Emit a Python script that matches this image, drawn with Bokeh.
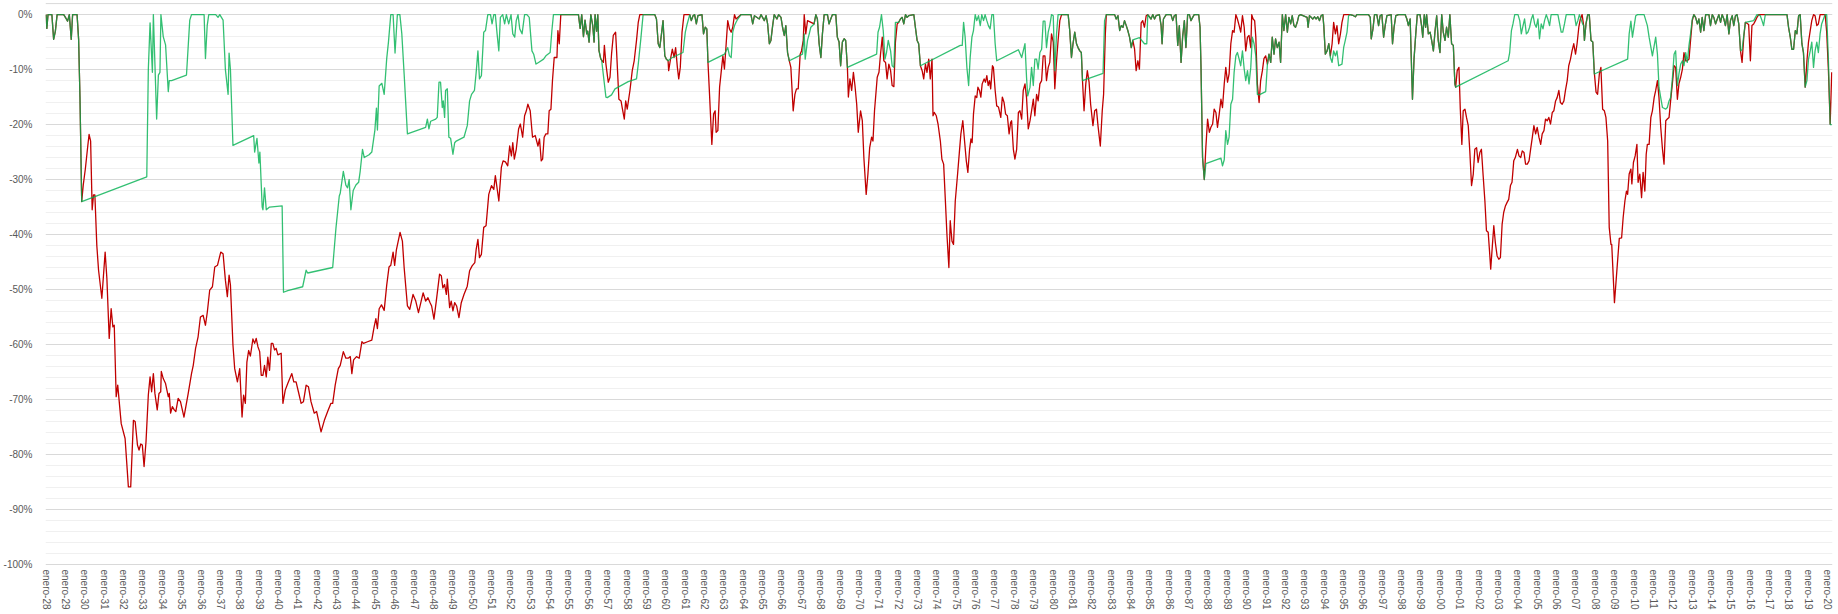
from bokeh.plotting import figure
from bokeh.models import Range1d, FixedTicker, PrintfTickFormatter, Span
from bokeh.embed import file_html
from bokeh.resources import INLINE

# ---- data: drawdown in %, x = decimal year ----
# stretches where both series coincide
both_year = [
    1928.00, 1928.04, 1928.10, 1928.30, 1928.39, 1928.48, 1928.57, 1928.91, 1929.03, 1929.11,
    1929.20, 1929.30, 1929.37, 1929.60, 1929.68, 1929.75, 1929.84,
    1954.58, 1954.72, 1955.49, 1955.58, 1955.66, 1955.75, 1955.83, 1955.92, 1955.97, 1956.04,
    1956.13, 1956.23, 1956.30, 1956.35, 1956.43, 1956.49, 1956.55, 1956.64, 1956.69,
    1958.83, 1959.43, 1959.52, 1959.61, 1959.69, 1959.78, 1959.86, 1959.95, 1960.03, 1960.12,
    1961.24, 1961.32, 1961.41, 1961.49, 1961.58, 1961.66, 1961.87, 1961.95, 1962.04, 1962.12, 1962.18,
    1963.89, 1964.40, 1964.49, 1964.58, 1964.83, 1964.92, 1965.09, 1965.18, 1965.26, 1965.35,
    1965.43, 1965.52, 1965.60, 1965.74, 1965.83, 1965.95, 1966.03, 1966.12, 1966.20, 1966.29, 1966.38,
    1967.66, 1967.75, 1967.83, 1967.92, 1968.01, 1968.09, 1968.18, 1968.35, 1968.43, 1968.52,
    1968.61, 1968.78, 1968.86, 1968.95, 1969.03, 1969.12, 1969.21, 1969.29, 1969.38,
    1972.03, 1972.12, 1972.21, 1972.29, 1972.38, 1972.46, 1972.55, 1972.81, 1972.89, 1972.98,
    1973.06, 1973.15,
    1980.44, 1980.78, 1980.86, 1980.95, 1981.03, 1981.12, 1981.21, 1981.29, 1981.38, 1981.46, 1981.52,
    1982.75, 1983.18, 1983.26, 1983.35, 1983.44, 1983.52, 1983.61, 1983.69, 1983.78, 1983.86,
    1983.95, 1984.04,
    1984.89, 1985.06, 1985.15, 1985.24, 1985.32, 1985.49, 1985.58, 1985.63, 1985.70, 1985.84,
    1986.09, 1986.18, 1986.26, 1986.35, 1986.44, 1986.52, 1986.61, 1986.69, 1986.78, 1986.86,
    1986.95, 1987.04, 1987.12, 1987.21, 1987.29, 1987.52, 1987.59, 1987.64, 1987.72, 1987.81,
    1991.07, 1991.15, 1991.24, 1991.32, 1991.41, 1991.49, 1991.58, 1991.67, 1991.75, 1991.84,
    1991.92, 1992.01, 1992.10, 1992.18, 1992.27, 1992.35, 1992.44, 1992.52, 1992.61, 1992.69,
    1992.78, 1993.12, 1993.17, 1993.24, 1993.33, 1993.41, 1993.50, 1993.58, 1993.67, 1993.76,
    1993.84, 1993.93, 1993.98, 1994.06,
    1995.35, 1995.52, 1995.61, 1995.69, 1996.29, 1996.38, 1996.43, 1996.52, 1996.60, 1996.72,
    1996.81, 1996.89, 1996.98, 1997.07, 1997.15, 1997.24, 1997.46, 1997.53, 1997.61, 1997.70,
    1997.84, 1998.18, 1998.27, 1998.35, 1998.44, 1998.56, 1998.64, 1998.73, 1998.81, 1998.95,
    1999.04, 1999.09, 1999.17, 1999.24, 1999.29, 1999.38, 1999.47, 1999.55, 1999.64, 1999.72,
    1999.81, 1999.89, 1999.98, 2000.07, 2000.15, 2000.24, 2000.32, 2000.41, 2000.49, 2000.58,
    2000.67, 2000.75, 2000.79,
    2007.40, 2007.44, 2007.52, 2007.61, 2007.69, 2007.78, 2007.87,
    2013.09, 2013.18, 2013.27, 2013.35, 2013.44, 2013.52, 2013.61, 2013.70, 2013.87, 2013.95,
    2014.04, 2014.12, 2014.21, 2014.30, 2014.38, 2014.47, 2014.55, 2014.64, 2014.72, 2014.81,
    2014.90, 2014.98, 2015.07, 2015.15, 2015.24, 2015.32, 2015.41, 2015.50,
    2016.78, 2017.90, 2017.98, 2018.07, 2018.15, 2018.24, 2018.33, 2018.41, 2018.50, 2018.58,
    2018.67, 2018.75, 2018.84,
    2019.87,
]
both_dd = [
    0, -2.5, 0, 0, -4.5, -3.0, 0, 0, -0.7, -1.2,
    0, -4.5, 0, 0, -4.5, -15, -34,
    0, 0, 0, -2.5, 0, -4, -1, -3.5, -3, -5,
    0, -2, -5, 0, -3, 0, -6.5, -8, -8.3,
    0, 0, -0.8, -5.3, -6.0, -3.5, -1.1, -7.5, -8.1, -8.4,
    0, -1.1, -0.2, 0, -1.7, -0.2, 0, -3.5, -2.3, -2.6, -8.7,
    0, 0, -1.7, -0.2, -0.8, 0, -1.1, -0.2, -1.7, -5.3,
    -4.7, -2.0, 0, -0.8, 0, -0.5, -2.3, -3.8, -2.0, -6.9, -8.4,
    -1.7, 0, -0.8, -5.3, -7.8, -3.5, 0, 0, -1.7, -0.8,
    0, 0, -4.1, -5.0, -9.3, -5.0, -4.4, -4.7, -9.6,
    -1.4, -0.8, -0.5, -1.7, 0, -0.5, -0.2, 0, -2.3, -4.7,
    -5.3, -9.3,
    0, 0, -2.9, -7.8, -5.3, -3.2, -5.3, -6.0, -6.6, -6.9, -12,
    0, 0, -0.8, -0.2, -2.9, -2.0, -2.3, -1.1, -2.0, -2.9,
    -4.1, -6.0,
    0, -0.8, 0, -0.8, -0.2, 0, -2.0, -5.3, -0.8, 0,
    0, -1.1, -0.2, 0, -5.6, -2.0, -8.7, -4.1, -1.1, -6.0,
    0, 0, -1.1, -0.5, 0, 0, -2.3, -9.6, -26, -30,
    -9.0, -7.2, -8.7, -4.1, -7.2, -4.4, -6.0, -5.0, -8.7, 0,
    -2.9, 0, -3.2, -0.5, -1.7, -0.2, -2.0, -2.3, -1.4, -0.2,
    0, -0.5, -2.3, -0.2, -0.5, -0.8, -0.4, -0.8, -0.4, -1.1,
    -0.2, 0, -2.0, -7.2,
    0, -0.2, -0.4, 0, 0, -0.5, -4.4, -2.6, 0, 0,
    -2.0, -0.2, 0, -4.1, -2.0, -0.2, 0, -5.3, -2.3, -0.2,
    0, 0, -0.8, -2.0, -0.8, -15.4, -8.1, -3.5, 0, 0,
    -2.3, -4.1, 0, -2.3, 0, -3.5, -3.2, -4.7, -6.6, -3.2,
    -0.2, -4.7, -6.9, 0, -3.2, -4.7, -2.3, -4.1, 0, -5.3,
    -5.6, -12.6, -13.2,
    -2.0, -4.7, -1.7, 0, 0, -4.7, -5.0,
    0, -0.5, -1.7, -0.8, -3.2, -0.5, -2.9, 0, 0, -2.0,
    0, -0.5, -1.7, -0.8, 0, -1.4, 0, -0.8, -2.0, 0,
    -3.5, -1.1, -0.2, -2.0, -0.2, 0, -1.7, -6.6,
    0, 0, -2.3, -4.1, -6.3, -6.3, -2.9, -3.5, -0.2, 0,
    -5.3, -6.9, -13.2,
    0,
]

# stretches where only the red series (buy & hold) is drawn
red_year = [
    1929.92, 1930.03, 1930.15, 1930.22, 1930.30, 1930.38, 1930.45, 1930.52, 1930.62,
    1930.71, 1930.88, 1931.05, 1931.14, 1931.26, 1931.36, 1931.45, 1931.52, 1931.62, 1931.70,
    1931.88, 1932.08, 1932.25, 1932.37, 1932.51, 1932.60, 1932.72, 1932.80, 1932.89, 1932.97,
    1933.06, 1933.16, 1933.28, 1933.37, 1933.45, 1933.54, 1933.62, 1933.74, 1933.83, 1933.92,
    1933.95, 1934.05, 1934.17, 1934.31, 1934.36, 1934.43, 1934.52, 1934.62, 1934.70, 1934.82,
    1934.94, 1935.12, 1935.34, 1935.51, 1935.60, 1935.72, 1935.85, 1935.97, 1936.11, 1936.23,
    1936.33, 1936.45, 1936.59, 1936.71, 1936.85, 1937.02, 1937.14, 1937.26, 1937.36, 1937.45,
    1937.52, 1937.65, 1937.74, 1937.88, 1938.00, 1938.12, 1938.20, 1938.29, 1938.37, 1938.46,
    1938.55, 1938.68, 1938.77, 1938.85, 1938.94, 1939.03, 1939.11, 1939.20, 1939.28, 1939.37,
    1939.45, 1939.54, 1939.63, 1939.71, 1939.80, 1939.88, 1939.97, 1940.14, 1940.23, 1940.35,
    1940.48, 1940.69, 1940.79, 1940.91, 1941.03, 1941.17, 1941.29, 1941.43, 1941.55, 1941.68,
    1941.85, 1941.97, 1942.20, 1942.37, 1942.54, 1942.71, 1942.80, 1942.93, 1943.09, 1943.19,
    1943.35, 1943.48, 1943.60, 1943.71, 1943.79, 1943.88, 1944.03, 1944.17, 1944.31, 1944.39,
    1944.60, 1944.82, 1944.94, 1945.03, 1945.11, 1945.20, 1945.32, 1945.46, 1945.59, 1945.71,
    1945.80, 1945.92, 1946.00, 1946.09, 1946.28, 1946.40, 1946.49, 1946.66, 1946.78, 1946.95,
    1947.09, 1947.23, 1947.47, 1947.60, 1947.72, 1947.83, 1947.91, 1948.03, 1948.15, 1948.32,
    1948.41, 1948.49, 1948.58, 1948.67, 1948.72, 1948.84, 1948.92, 1949.01, 1949.10, 1949.20,
    1949.32, 1949.44, 1949.58, 1949.75, 1949.87, 1950.00, 1950.14, 1950.21, 1950.30, 1950.38,
    1950.48, 1950.60, 1950.72, 1950.86, 1951.00, 1951.12, 1951.20, 1951.38, 1951.51, 1951.60,
    1951.72, 1951.84, 1951.94, 1952.03, 1952.10, 1952.18, 1952.28, 1952.40, 1952.49, 1952.61,
    1952.71, 1952.80, 1952.88, 1953.00, 1953.12, 1953.26, 1953.40, 1953.48, 1953.57, 1953.64,
    1953.72, 1953.81, 1953.91, 1953.98, 1954.07, 1954.15, 1954.24, 1954.38, 1954.43, 1954.50,
    1956.78, 1956.83, 1956.91, 1957.03, 1957.12, 1957.20, 1957.29, 1957.41, 1957.46, 1957.58,
    1957.69, 1957.75, 1957.86, 1957.93, 1958.01, 1958.15, 1958.27, 1958.37, 1958.49, 1958.58, 1958.66,
    1960.15, 1960.26, 1960.34, 1960.43, 1960.51, 1960.60, 1960.67, 1960.75, 1960.84, 1960.94, 1961.10,
    1962.26, 1962.38, 1962.47, 1962.55, 1962.60, 1962.69, 1962.78, 1962.86, 1962.95, 1963.03,
    1963.12, 1963.20, 1963.29, 1963.38, 1963.46, 1963.55, 1963.63,
    1966.46, 1966.58, 1966.67, 1966.75, 1966.84, 1966.94, 1967.01, 1967.10, 1967.15, 1967.23, 1967.32,
    1969.43, 1969.51, 1969.60, 1969.69, 1969.77, 1969.86, 1969.94, 1970.06, 1970.15, 1970.23,
    1970.35, 1970.44, 1970.53, 1970.63, 1970.70, 1970.78, 1970.92, 1971.01, 1971.09, 1971.18,
    1971.26, 1971.35, 1971.43, 1971.52, 1971.61, 1971.69, 1971.78, 1971.86, 1971.95,
    1973.24, 1973.32, 1973.41, 1973.49, 1973.58, 1973.66, 1973.75, 1973.80, 1973.87, 1973.97,
    1974.06, 1974.18, 1974.26, 1974.35, 1974.44, 1974.52, 1974.62, 1974.69, 1974.78, 1974.86,
    1974.95, 1975.07, 1975.16, 1975.24, 1975.34, 1975.43, 1975.52, 1975.60, 1975.69, 1975.76,
    1975.82, 1975.89, 1975.98, 1976.06, 1976.12, 1976.20, 1976.27, 1976.34, 1976.44, 1976.51,
    1976.58, 1976.65, 1976.72, 1976.78, 1976.87, 1976.92, 1977.01, 1977.09, 1977.18, 1977.30,
    1977.38, 1977.47, 1977.55, 1977.64, 1977.73, 1977.81, 1977.86, 1977.95, 1978.03, 1978.12,
    1978.21, 1978.29, 1978.38, 1978.46, 1978.55, 1978.63, 1978.72, 1978.81, 1978.89, 1978.98,
    1979.06, 1979.15, 1979.23, 1979.32, 1979.41, 1979.49, 1979.58, 1979.66, 1979.75, 1979.83,
    1979.92, 1980.01, 1980.09, 1980.18, 1980.26, 1980.35,
    1981.60, 1981.69, 1981.77, 1981.86, 1981.94, 1982.06, 1982.15, 1982.24, 1982.32, 1982.44,
    1982.54, 1982.61, 1982.70,
    1984.12, 1984.21, 1984.29, 1984.38, 1984.46, 1984.55, 1984.63, 1984.72, 1984.81,
    1987.89, 1987.98, 1988.07, 1988.15, 1988.24, 1988.32, 1988.41, 1988.49, 1988.58, 1988.67,
    1988.75, 1988.84, 1988.92, 1989.01, 1989.09, 1989.18, 1989.27, 1989.35, 1989.44, 1989.52,
    1989.61, 1989.69, 1989.78, 1989.87, 1989.95, 1990.04, 1990.12, 1990.21, 1990.26, 1990.33,
    1990.41, 1990.47, 1990.55, 1990.64, 1990.72, 1990.81, 1990.89, 1990.98,
    1994.15, 1994.24, 1994.32, 1994.41, 1994.49, 1994.58, 1994.66, 1994.75, 1994.84, 1994.92,
    1995.01, 1995.18,
    2000.87, 2000.96, 2001.03, 2001.11, 2001.18, 2001.27, 2001.35, 2001.44, 2001.52, 2001.61,
    2001.70, 2001.78, 2001.87, 2001.95, 2002.04, 2002.12, 2002.21, 2002.30, 2002.38, 2002.47,
    2002.55, 2002.60, 2002.69, 2002.76, 2002.84, 2002.93, 2003.02, 2003.10, 2003.19, 2003.27,
    2003.36, 2003.44, 2003.53, 2003.62, 2003.70, 2003.79, 2003.87, 2003.98, 2004.06, 2004.15,
    2004.23, 2004.32, 2004.40, 2004.49, 2004.58, 2004.66, 2004.75, 2004.83, 2004.92, 2005.00,
    2005.09, 2005.18, 2005.26, 2005.35, 2005.43, 2005.52, 2005.60, 2005.69, 2005.78, 2005.86,
    2005.95, 2006.03, 2006.12, 2006.20, 2006.29, 2006.38, 2006.46, 2006.55, 2006.63, 2006.72,
    2006.80, 2006.89, 2006.98, 2007.06, 2007.15, 2007.23, 2007.32,
    2007.95, 2008.04, 2008.12, 2008.21, 2008.29, 2008.38, 2008.47, 2008.55, 2008.64, 2008.72,
    2008.81, 2008.85, 2008.99, 2009.24, 2009.36, 2009.44, 2009.53, 2009.61, 2009.67, 2009.75,
    2009.84, 2009.89, 2009.97, 2010.06, 2010.15, 2010.21, 2010.30, 2010.39, 2010.47, 2010.56,
    2010.63, 2010.69, 2010.78, 2010.87, 2010.95, 2011.04, 2011.12, 2011.21, 2011.29, 2011.38,
    2011.47, 2011.55, 2011.64, 2011.72, 2011.81, 2011.89, 2011.98, 2012.07, 2012.15, 2012.24,
    2012.32, 2012.41, 2012.50, 2012.58, 2012.67, 2012.75, 2012.84, 2012.92, 2013.01,
    2015.58, 2015.67, 2015.75, 2015.92, 2016.01, 2016.09, 2016.18, 2016.27, 2016.35, 2016.44, 2016.61,
    2018.93, 2019.01, 2019.10, 2019.18, 2019.27, 2019.35, 2019.44, 2019.52, 2019.61, 2019.69,
    2019.95, 2020.04, 2020.13, 2020.21,
]
red_dd = [
    -31, -28, -24, -21.8, -23, -35.5, -32.8, -32.8, -42,
    -46.5, -51.6, -43.2, -48, -58.9, -53.5, -56.8, -56.5, -69.5, -67.4,
    -74.4, -77.1, -85.9, -85.9, -73.8, -74, -78.3, -79.2, -78.1, -78.3,
    -82.2, -77.7, -69.2, -65.9, -68.6, -65.3, -68.9, -71.9, -68.9, -68.6,
    -64.9, -66.2, -67.1, -69.5, -68.9, -72.5, -71.3, -71.9, -72.2, -69.8,
    -70.4, -73.2, -68.9, -65.3, -63.8, -60.7, -58.6, -55, -54.7, -56.5,
    -54, -50.1, -49.5, -45.9, -45.6, -43.2, -43.5, -48.3, -51.3, -47.4,
    -49.2, -60.1, -64.4, -66.8, -64.4, -73.2, -69.2, -70.7, -63.2, -61.1,
    -62.1, -59, -59.8, -58.9, -60.4, -61.3, -65.6, -65.6, -63.8, -65.9,
    -62.3, -64.7, -59.8, -59.8, -61, -60.7, -61.9, -61.6, -70.7, -68.3,
    -67.1, -65.3, -66.8, -66.8, -68.6, -70.7, -70.4, -67.4, -67.7, -70.4,
    -72.5, -72.2, -75.9, -73.8, -72.2, -70.7, -70.7, -67.4, -64.4, -63.8,
    -61.3, -62.5, -62.5, -62.2, -65.3, -62.8, -62.2, -62.5, -59.5, -59.8,
    -59.5, -59.2, -56.8, -55.3, -57.1, -53.5, -52.8, -53.8, -49.2, -45.9,
    -45.6, -43.2, -45.6, -42.8, -39.6, -41.2, -46, -53, -53.6, -50.9,
    -52.1, -54.2, -50.6, -52.1, -51.5, -52.4, -53.0, -55.4, -52.1, -47.2,
    -47.5, -49.7, -49.1, -50.9, -48.1, -53.3, -52.1, -53.9, -52.4, -53.0,
    -55.1, -52.4, -50.9, -49.4, -46.6, -45.7, -45.1, -42.7, -40.9, -44.2,
    -43.6, -38.7, -38.4, -32.7, -31.1, -31.8, -29.3, -33.9, -27.8, -26.6,
    -26.8, -27.5, -23.9, -25.7, -23.3, -26.3, -24.5, -20.8, -19.9, -22.3,
    -18.4, -17.5, -16.3, -17.5, -22.3, -22.0, -23.9, -22.6, -26.6, -26.3,
    -22.3, -21.7, -21.7, -17.5, -17.2, -12.0, -7.8, -7.8, -2.9, -5.3,
    -8.7, -5.6, -9, -12.3, -11.4, -7.2, -3.8, -3.2, -6.6, -15.4,
    -15.7, -16.9, -19, -15.7, -17.2, -13.8, -10.2, -8.4, -4.7, -1.4, 0,
    -10.2, -7.8, -6.3, -7.8, -6, -9.6, -11.7, -9.6, -3.2, 0, 0,
    -14.5, -23.6, -18.1, -17.5, -21.4, -21.1, -13.2, -10.5, -7.5, -9.9,
    -5.3, -1.1, -2.6, -3.2, -2.3, 0, -0.8,
    -9.6, -17.5, -14.5, -13.5, -13.5, -7.2, -6.6, -4.7, 0, -3.5, -1.1,
    -15, -11.7, -13.8, -10.5, -12.9, -16.3, -21.4, -17.5, -19.3, -26,
    -32.7, -29, -24.2, -22.3, -23, -17.5, -11.4, -10.5, -7.2, -4.1,
    -8.4, -8.7, -11.7, -9, -10.2, -12.9, -13.1, -5, -1.7,
    -10.2, -11.7, -9, -10.5, -8.1, -11.7, -8.1, -18.4, -17.8, -18.4,
    -19.9, -23, -26.3, -27.2, -33.9, -40, -46, -37.5, -41.2, -41.8,
    -33.9, -29, -25.1, -21.7, -19.3, -23, -26.6, -28.7, -24.5, -22.6,
    -23.3, -18.1, -14.8, -15.1, -13.2, -13.8, -15, -12.6, -11.7, -12.3,
    -11.1, -12.9, -12.0, -13.5, -9.3, -9.6, -13.8, -16.6, -16.8, -18.7,
    -15, -16, -18.1, -18.4, -21.7, -19.6, -19.3, -24.5, -26.3, -24.5,
    -17.8, -17.5, -19, -13.8, -12.6, -15.1, -20.8, -19.3, -17.5, -15.4,
    -18.4, -14.5, -15.7, -12.6, -12, -7.5, -7.5, -12, -9.6, -8.7,
    -3.5, -5.0, -13.5, -8.4, -4.7, -1.1,
    -17.5, -12.6, -10.2, -12.3, -16.3, -20.2, -17.5, -17.2, -20.2, -23.9,
    -17.5, -14.5, -3.5,
    -4.7, -6.3, -10.2, -8.4, -9.9, -1.5, -1.1, -2.3, -0.2,
    -24.2, -19, -21.4, -20.5, -19.9, -17.2, -17.8, -20.5, -18.1, -15.4,
    -16.9, -12.6, -9.6, -12.3, -10.8, -5.3, -2.9, -3.2, 0, -0.8,
    -2.0, -3.2, -0.2, -2.3, -6.6, -4.1, -3.8, -6.0, 0, -0.8,
    -1.1, -4.1, -12.6, -16, -12, -10.2, -8.0, -7.5,
    -6.6, -5.3, -7.5, -5.3, -1.4, -3.5, -2.0, -5.3, -3.5, -1.4,
    0, 0,
    -10.2, -9.6, -17.2, -23.6, -17.5, -17.2, -18.7, -20.2, -24.8, -31.1,
    -29, -24.5, -24.2, -26.9, -25.1, -24.5, -29.3, -33.9, -39.3, -39.6,
    -43.6, -46.3, -41.8, -38.4, -41.5, -43.9, -44.5, -44.2, -38.1, -36,
    -34.8, -34.2, -33.6, -31.1, -30.5, -26.6, -26, -24.5, -25.7, -26,
    -24.8, -25.1, -27.2, -27.2, -26.6, -24.5, -22.3, -20.2, -21.7, -20.5,
    -22.3, -23.6, -21.7, -21.1, -19, -19.3, -18.7, -19.9, -17.8, -17.5,
    -15.7, -15.1, -13.8, -16, -16.3, -15.7, -13.8, -12, -9.3, -8.1,
    -6.6, -5.3, -7.2, -5.3, -2.3, -0.8, 0,
    -10.5, -14.1, -14.5, -10.8, -9.6, -17.2, -17.5, -18.7, -23, -38.7,
    -41.8, -41.8, -52.4, -40.7, -40.6, -36.9, -33.9, -32.1, -32.7, -29,
    -28.1, -30.8, -26.9, -25.7, -23.6, -30.5, -29, -33.3, -28.7, -32.1,
    -25.4, -23.6, -23.6, -18.7, -17.5, -15.1, -13.8, -12, -15.1, -20.5,
    -24.5, -27.2, -19.3, -19, -18.7, -15.7, -12.6, -9.3, -9.6, -15.4,
    -12.6, -11.4, -9.9, -6.9, -8.4, -8.4, -8.1, -4.7, -1.1,
    -8.7, -4.0, -1.4, -1.8, -8.4, -2.0, -1.7, -1.1, -0.5, 0, 0,
    -8.4, -5.0, -2.9, -1.1, 0, -0.2, -2.0, -1.7, 0, 0,
    -3.2, -10.2, -19.9, -10.5,
]

# stretches where only the green series (strategy) is drawn
grn_year = [
    1933.20, 1933.28, 1933.37, 1933.49, 1933.54, 1933.71, 1933.80, 1933.88, 1933.93, 1934.05,
    1934.17, 1934.31, 1934.36, 1934.48, 1935.25, 1935.42, 1935.51, 1936.16, 1936.23, 1936.32,
    1936.40, 1936.76, 1936.88, 1936.97, 1937.14, 1937.26, 1937.40, 1937.45, 1937.52, 1937.65,
    1938.72, 1938.77, 1938.89, 1938.99, 1939.04, 1939.16, 1939.20, 1939.28, 1939.37, 1939.54,
    1940.19, 1940.26, 1940.48, 1941.25, 1941.43, 1941.51, 1942.80, 1942.97, 1943.14, 1943.19,
    1943.35, 1943.48, 1943.57, 1943.65, 1943.74, 1943.86, 1944.00, 1944.14, 1944.22, 1944.34,
    1944.43, 1944.68, 1944.82, 1944.98, 1945.06, 1945.11, 1945.20, 1945.34, 1945.46, 1945.59,
    1945.68, 1945.80, 1945.92, 1946.02, 1946.14, 1946.27, 1946.37, 1946.49, 1946.66, 1947.60,
    1947.69, 1947.77, 1947.86, 1948.12, 1948.20, 1948.29, 1948.37, 1948.46, 1948.51, 1948.58,
    1948.63, 1948.72, 1948.80, 1948.89, 1949.01, 1949.10, 1949.18, 1949.58, 1949.75, 1949.87,
    1949.97, 1950.12, 1950.21, 1950.30, 1950.38, 1950.48, 1950.60, 1950.69, 1950.81, 1950.95,
    1951.03, 1951.12, 1951.20, 1951.29, 1951.38, 1951.46, 1951.58, 1951.68, 1951.77, 1951.89,
    1952.01, 1952.10, 1952.20, 1952.28, 1952.37, 1952.46, 1952.58, 1952.71, 1952.83, 1952.95,
    1953.09, 1953.18, 1953.30, 1953.43, 1953.69, 1953.81, 1954.03, 1954.12, 1954.20, 1954.43, 1954.55,
    1956.91, 1956.98, 1957.20, 1957.38, 1958.06, 1958.49, 1958.58, 1958.71,
    1960.29, 1960.89, 1961.01, 1961.10,
    1963.03, 1963.20, 1963.29, 1963.38, 1963.46, 1963.55, 1963.63, 1963.72,
    1967.06, 1967.15, 1967.20, 1967.32, 1967.41, 1967.49,
    1970.89, 1970.96, 1971.04, 1971.14, 1971.23, 1971.32, 1971.40, 1971.49, 1971.61, 1971.69,
    1971.78, 1971.86,
    1975.21, 1975.31, 1975.38, 1975.46, 1975.55, 1975.64, 1975.72, 1975.81, 1975.89, 1975.98,
    1976.06, 1976.15, 1976.24, 1976.32, 1976.41, 1976.49, 1976.58, 1976.66, 1976.75, 1976.84,
    1976.92, 1977.01, 1977.09, 1978.21, 1978.38, 1978.55, 1978.63, 1978.69, 1978.81, 1978.89,
    1978.98, 1979.06, 1979.15, 1979.23, 1979.32, 1979.41, 1979.49, 1979.58, 1979.66, 1979.75,
    1979.83, 1979.92, 1980.01, 1980.09, 1980.18, 1980.26, 1980.35,
    1982.58, 1982.66,
    1984.12, 1984.46, 1984.72, 1984.84,
    1987.89, 1988.67, 1988.75, 1988.84, 1988.92, 1989.01, 1989.09, 1989.18, 1989.27, 1989.35,
    1989.44, 1989.52, 1989.61, 1989.69, 1989.78, 1989.87, 1989.95, 1990.04, 1990.12, 1990.21,
    1990.29, 1990.38, 1990.47, 1990.55, 1990.64, 1990.98,
    1994.15, 1994.24, 1994.32, 1994.41, 1994.49, 1994.58, 1994.66, 1994.75, 1994.92, 1995.01,
    1995.09, 1995.18, 1995.26,
    2003.50, 2003.58, 2003.67, 2003.75, 2003.84, 2004.01, 2004.10, 2004.18, 2004.27, 2004.35,
    2004.44, 2004.52, 2004.61, 2004.70, 2004.78, 2004.87, 2004.95, 2005.04, 2005.12, 2005.21,
    2005.30, 2005.38, 2005.47, 2005.55, 2005.64, 2005.72, 2006.07, 2006.24, 2006.32, 2006.41,
    2006.50, 2006.92, 2007.01, 2007.10, 2007.18, 2007.35,
    2007.95, 2009.67, 2009.75, 2009.84, 2009.92, 2010.01, 2010.09, 2010.18, 2010.52, 2010.69,
    2010.78, 2010.95, 2011.12, 2011.21, 2011.29, 2011.38, 2011.47, 2011.64, 2011.72, 2011.81,
    2011.89, 2011.98, 2012.07, 2012.15, 2012.24, 2012.32, 2012.41, 2012.50, 2012.58, 2012.67,
    2012.75, 2012.84, 2012.92, 2013.01,
    2015.58, 2015.75, 2016.18, 2016.35, 2016.52, 2016.61, 2016.69,
    2018.93, 2019.01, 2019.10, 2019.18, 2019.27, 2019.35, 2019.44, 2019.52, 2019.61, 2019.69,
    2019.95, 2020.04, 2020.13, 2020.21,
]
grn_dd = [
    -29.5, -10, -1.5, -10.5, 0, -19, -11, -10.5, 0, -4,
    -5.5, -14, -12, -12, -11, -1, 0, 0, -8, -2,
    0, 0, -0.5, 0, -1, -10, -14.5, -7, -10, -23.8,
    -22, -25, -22.5, -27, -25, -35, -35.5, -31.5, -35.5, -35,
    -34.8, -50.5, -50.2, -49.5, -46.5, -47, -46, -38.8, -33, -32.5,
    -28.5, -31, -31.5, -30, -35.5, -32, -31, -30.5, -28.5, -24.5,
    -26, -25.5, -25, -21, -17, -21, -13, -12.5, -14.5, -8,
    -5, 0, 0, -7, 0, 0, -3.5, -10.8, -21.7, -20.5,
    -19.0, -20.8, -19.4, -19.0, -18.7, -12.3, -12.3, -16.9, -15.7, -18.7,
    -13.8, -13.5, -22.3, -22.5, -25.4, -23.3, -23.0, -22.3, -20.2, -15.7,
    -14.5, -13.8, -10.5, -6.6, -11.7, -11.1, -3.2, -2.9, 0, 0,
    -1.7, 0, 0, -3.5, -6.6, -0.5, 0, -1.7, 0, -1.7,
    0, -3.5, -4.1, -1.1, 0, -2.6, -3.5, 0, 0, -0.5,
    -6.6, -7.2, -9.0, -8.7, -8.1, -7.5, -6.9, -2.9, 0, 0, 0,
    -15, -15.1, -14.6, -13.5, -12.2, -11.7, -9, -4.5,
    -7.9, -6.9, -3.2, -1.8,
    -7.2, -6, -7.5, -7.8, -3.2, -2.0, -1.4, -0.8,
    -7.2, -3.5, -8.1, -4.7, -3.5, -2.3,
    -7.2, -3.2, -2.3, 0, -2.9, -8.1, -6.9, -4.7, -6.6, -9.3,
    -9.6, -1.4,
    -5.6, -5.6, -1.4, -4.1, -9.6, -12.9, -7.8, -4.1, -2.9, 0,
    -1.1, -0.2, -2.0, 0, -1.1, 0, -1.1, -2.0, -2.6, 0,
    0, -5.3, -8.4, -6.4, -7.8, -5.3, -11.4, -14.8, -13.2, -9.6,
    -12.9, -8.1, -8.1, -9.9, -6.9, -6.3, -1.2, -1.2, -6, -3.2,
    -2.0, 0, -0.2, -10.2, -3.5, 0, 0,
    -10.7, -1.1,
    -4.6, -4.2, -5.3, -5.3,
    -27.1, -26.1, -27.5, -26.4, -21.1, -23.6, -22.3, -16.3, -15.4, -10.5,
    -7.5, -6.9, -8.1, -9.3, -6.6, -9.9, -12, -10.2, -12.6, -9.6,
    -4.1, -5.3, -7.5, -14.5, -14.6, -14,
    -6.6, -5.3, -7.8, -8.7, -6.6, -7.5, -6.6, -9.3, -9.0, -5.9,
    -4.7, -3.2, -0.2,
    -8.4, -6.9, -2.9, -1.7, 0, 0, -1.1, -3.5, -2.0, -0.8,
    -3.5, -3.2, -2.3, -0.8, 0, -1.7, -2.3, -0.8, -4.4, -1.7,
    -2.6, -1.1, 0, -0.8, -2.0, 0, 0, -3.2, -3.2, -1.7,
    0, 0, -2.0, -1.1, 0, -1.7,
    -10.8, -8.1, -3.5, -1.2, -4.1, -2.0, -0.2, 0, 0, -2.0,
    -4.1, -7.5, -4.1, -7.2, -13.2, -15.1, -16.9, -17.2, -16.9, -15.7,
    -15.1, -11.7, -7.2, -6.6, -12.9, -10.8, -9, -8.4, -9.3, -6.9,
    -8.7, -5.6, -3.5, -0.8,
    -6.4, -1.4, -1.1, 0, -0.2, -1.1, -2.0,
    -12, -8.1, -6.6, -5.0, -9.6, -6.6, -5.0, -6.9, -3.5, -1.7,
    0, -8.4, -20, -20,
]

tick_years = list(range(1928, 2021))
tick_labels = ["enero-%02d" % (y % 100) for y in tick_years]
y_major = list(range(-100, 1, 10))
y_minor = [v for v in range(-98, 0, 2) if v % 10 != 0]

RED = "#c00000"
GREEN = "#00b050"
TEXT = "#595959"


def merge(ax, av, bx, bv):
    pts = sorted(zip(ax + bx, av + bv), key=lambda t: t[0])
    return [p[0] for p in pts], [p[1] for p in pts]


red_x, red_y = merge(both_year, both_dd, red_year, red_dd)
grn_x, grn_y = merge(both_year, both_dd, grn_year, grn_dd)

p = figure(width=1836, height=612, output_backend="svg", toolbar_location=None,
           x_range=Range1d(1927.97, 2020.25), y_range=Range1d(-100.2, 2.2),
           min_border_left=38, min_border_right=4, min_border_top=2, min_border_bottom=46)
p.outline_line_color = None
p.background_fill_color = "white"
p.border_fill_color = "white"

# thin chart border at the top
p.add_layout(Span(location=2.0, dimension="width", line_color="#d9d9d9", line_width=1))

p.line(red_x, red_y, line_color=RED, line_width=1.3, line_join="round")
p.line(grn_x, grn_y, line_color=GREEN, line_width=1.3, line_alpha=0.8, line_join="round")

# x axis
p.xaxis.ticker = FixedTicker(ticks=tick_years)
p.xaxis.major_label_overrides = {y: lab for y, lab in zip(tick_years, tick_labels)}
p.xaxis.major_label_orientation = "vertical"
p.xaxis.axis_line_color = None
p.xaxis.major_tick_line_color = None
p.xaxis.minor_tick_line_color = None
p.xaxis.major_tick_out = 0
p.xaxis.major_label_standoff = 4
p.xaxis.major_label_text_font = "Liberation Sans"
p.xaxis.major_label_text_font_size = "10px"
p.xaxis.major_label_text_color = TEXT
p.xgrid.grid_line_color = None

# y axis
p.yaxis.ticker = FixedTicker(ticks=y_major, minor_ticks=y_minor)
p.yaxis.formatter = PrintfTickFormatter(format="%d%%")
p.yaxis.axis_line_color = None
p.yaxis.major_tick_line_color = None
p.yaxis.minor_tick_line_color = None
p.yaxis.major_tick_out = 0
p.yaxis.major_label_standoff = 9
p.yaxis.major_label_text_font = "Liberation Sans"
p.yaxis.major_label_text_font_size = "10px"
p.yaxis.major_label_text_color = TEXT
p.ygrid.grid_line_color = "#d9d9d9"
p.ygrid.grid_line_width = 1
p.ygrid.minor_grid_line_color = "#f0f0f0"
p.ygrid.minor_grid_line_width = 1

open("out.html", "w").write(file_html(p, INLINE))
